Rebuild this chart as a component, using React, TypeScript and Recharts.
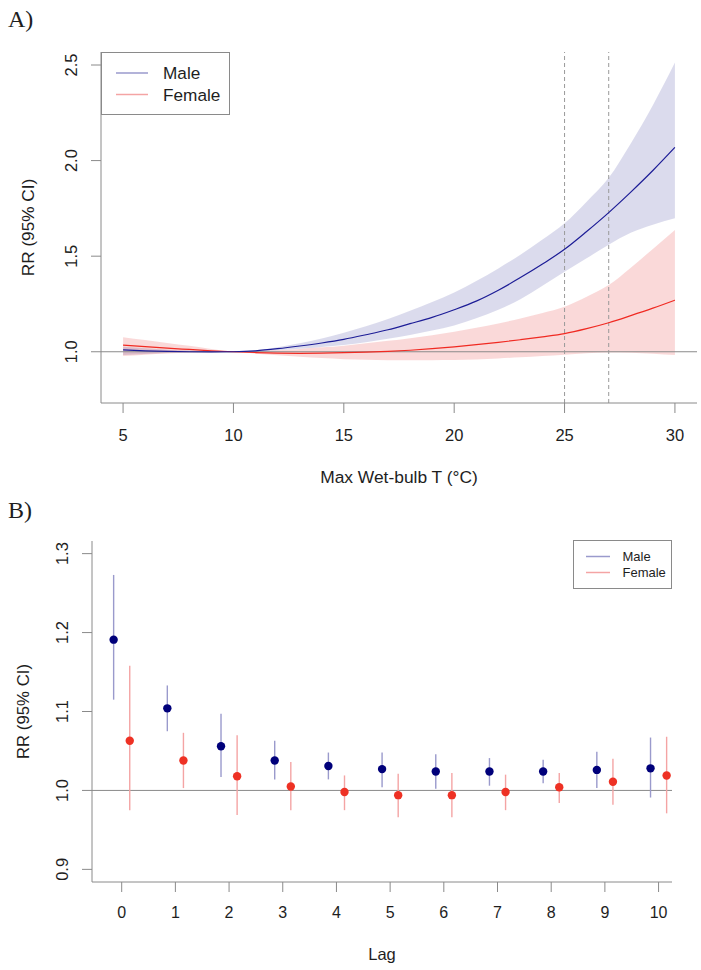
import React from 'react';
import {
  ComposedChart,
  Area,
  Line,
  XAxis,
  YAxis,
  ReferenceLine,
  Legend,
  Scatter,
  ErrorBar,
} from 'recharts';

const FONT = "'Liberation Sans', Arial, Helvetica, sans-serif";
const SERIF = "'Liberation Serif', 'Times New Roman', serif";

// ---------- Panel A: exposure-response curves ----------
const tempX = [5, 6, 7, 8, 9, 10, 11, 12, 13, 14, 15, 16, 17, 18, 19, 20, 21, 22, 23, 24, 25, 26, 27, 28, 29, 30];
const maleFit = [1.010, 1.005, 1.002, 1.000, 0.999, 1.000, 1.005, 1.016, 1.030, 1.046, 1.065, 1.089, 1.115, 1.147, 1.180, 1.220, 1.265, 1.322, 1.388, 1.459, 1.536, 1.629, 1.728, 1.835, 1.948, 2.069];
const maleLow = [0.983, 0.988, 0.993, 0.996, 0.997, 1.000, 1.002, 1.008, 1.016, 1.025, 1.035, 1.050, 1.068, 1.088, 1.111, 1.138, 1.175, 1.220, 1.275, 1.345, 1.419, 1.489, 1.560, 1.622, 1.664, 1.698];
const maleHigh = [1.026, 1.018, 1.011, 1.006, 1.002, 1.000, 1.008, 1.024, 1.044, 1.070, 1.100, 1.133, 1.171, 1.214, 1.260, 1.310, 1.370, 1.436, 1.508, 1.587, 1.672, 1.785, 1.910, 2.090, 2.290, 2.513];
const femaleFit = [1.035, 1.027, 1.019, 1.012, 1.005, 1.000, 0.996, 0.993, 0.992, 0.993, 0.995, 0.998, 1.002, 1.008, 1.016, 1.026, 1.037, 1.049, 1.063, 1.078, 1.095, 1.121, 1.152, 1.189, 1.228, 1.270];
const femaleLow = [0.978, 0.985, 0.991, 0.995, 0.998, 1.000, 0.990, 0.982, 0.974, 0.967, 0.961, 0.958, 0.956, 0.955, 0.956, 0.957, 0.960, 0.965, 0.971, 0.978, 0.985, 0.992, 0.996, 0.995, 0.990, 0.983];
const femaleHigh = [1.076, 1.061, 1.046, 1.031, 1.015, 1.000, 1.003, 1.008, 1.015, 1.023, 1.032, 1.044, 1.057, 1.071, 1.087, 1.105, 1.125, 1.148, 1.174, 1.203, 1.236, 1.288, 1.349, 1.440, 1.538, 1.637];
const tempTicks = [5, 10, 15, 20, 25, 30];
const rrTicksA = [1.0, 1.5, 2.0, 2.5];
const thresholds = [25, 27];

// ---------- Panel B: lag-specific estimates ----------
const lags = [0, 1, 2, 3, 4, 5, 6, 7, 8, 9, 10];
const maleEst = [1.191, 1.104, 1.056, 1.038, 1.031, 1.027, 1.024, 1.024, 1.024, 1.026, 1.028];
const maleLo = [1.115, 1.075, 1.017, 1.014, 1.014, 1.004, 1.002, 1.006, 1.009, 1.003, 0.991];
const maleHi = [1.273, 1.133, 1.097, 1.063, 1.048, 1.048, 1.046, 1.041, 1.039, 1.049, 1.067];
const femaleEst = [1.063, 1.038, 1.018, 1.005, 0.998, 0.994, 0.994, 0.998, 1.004, 1.011, 1.019];
const femaleLo = [0.975, 1.003, 0.969, 0.975, 0.975, 0.966, 0.966, 0.975, 0.984, 0.982, 0.971];
const femaleHi = [1.158, 1.073, 1.070, 1.036, 1.019, 1.021, 1.022, 1.020, 1.022, 1.040, 1.068];
const rrTicksB = [0.9, 1.0, 1.1, 1.2, 1.3];

const seriesNames = ['Male', 'Female'];

// ---------- styles ----------
const AXIS = '#8a8a8a';
const TEXT = '#1e1e1e';
const MALE = '#1c1c96';
const FEMALE = '#f02a22';
const MALE_DOT = '#00007a';
const FEMALE_DOT = '#ee3124';
const MALE_LIGHT = '#9a9acc';
const FEMALE_LIGHT = '#f4a4a4';
const legendColors = [MALE_LIGHT, FEMALE_LIGHT];

const curveRows = tempX.map((x, i) => ({
  x,
  mFit: maleFit[i],
  mBand: [maleLow[i], maleHigh[i]],
  fFit: femaleFit[i],
  fBand: [femaleLow[i], femaleHigh[i]],
}));

const DODGE = 0.15;
const maleLagRows = lags.map((l, i) => ({
  x: l - DODGE,
  y: maleEst[i],
  err: [maleEst[i] - maleLo[i], maleHi[i] - maleEst[i]],
}));
const femaleLagRows = lags.map((l, i) => ({
  x: l + DODGE,
  y: femaleEst[i],
  err: [femaleEst[i] - femaleLo[i], femaleHi[i] - femaleEst[i]],
}));

const RotYTick = (props: any) => {
  const { x, y, payload, fs, off } = props;
  const cx = x - off;
  return (
    <text
      x={cx}
      y={y}
      transform={`rotate(-90 ${cx} ${y})`}
      textAnchor="middle"
      dy="0.36em"
      fontSize={fs}
      fontFamily={FONT}
      fill={TEXT}
    >
      {Number(payload.value).toFixed(1)}
    </text>
  );
};

const XTick = (props: any) => {
  const { x, y, payload, fs } = props;
  return (
    <text x={x} y={y} dy="0.716em" textAnchor="middle" fontSize={fs} fontFamily={FONT} fill={TEXT}>
      {payload.value}
    </text>
  );
};

const YTitle = (props: any) => {
  const { viewBox, text, off, fs } = props;
  const cx = viewBox.x + off;
  const cy = viewBox.y + viewBox.height / 2;
  return (
    <text
      x={cx}
      y={cy}
      transform={`rotate(-90 ${cx} ${cy})`}
      textAnchor="middle"
      dy="0.36em"
      fontSize={fs}
      fontFamily={FONT}
      fill={TEXT}
    >
      {text}
    </text>
  );
};

const XTitle = (props: any) => {
  const { viewBox, text, off, fs } = props;
  const cx = viewBox.x + viewBox.width / 2;
  const cy = viewBox.y + off;
  return (
    <text x={cx} y={cy} textAnchor="middle" fontSize={fs} fontFamily={FONT} fill={TEXT}>
      {text}
    </text>
  );
};

const BoxLegend = (props: any) => {
  const { w, h, rows, x1, x2, tx, fs } = props;
  return (
    <div style={{ width: w, height: h, border: `1px solid ${AXIS}`, background: '#fff', boxSizing: 'border-box' }}>
      <svg width={w - 2} height={h - 2} style={{ display: 'block' }}>
        {seriesNames.map((n, i) => (
          <g key={n}>
            <line x1={x1} x2={x2} y1={rows[i]} y2={rows[i]} stroke={legendColors[i]} strokeWidth={1.5} />
            <text x={tx} y={rows[i]} dy="0.36em" fontSize={fs} fontFamily={FONT} fill={TEXT}>
              {n}
            </text>
          </g>
        ))}
      </svg>
    </div>
  );
};

const Dot = (color: string) => (p: any) => <circle cx={p.cx} cy={p.cy} r={4.2} fill={color} />;

export default function App() {
  return (
    <div style={{ position: 'absolute', left: 0, top: 0, width: 701, height: 970, background: '#fff', fontFamily: FONT }}>
      <svg width={701} height={970} style={{ position: 'absolute', left: 0, top: 0 }}>
        <text x={8} y={27} fontFamily={SERIF} fontSize={24} fill={TEXT}>A)</text>
        <text x={8} y={518} fontFamily={SERIF} fontSize={24} fill={TEXT}>B)</text>
      </svg>

      <div style={{ position: 'absolute', left: 0, top: 0 }}>
        <ComposedChart width={701} height={495} data={curveRows} margin={{ top: 52, right: 4, bottom: 10, left: 0 }}>
          <XAxis
            type="number"
            dataKey="x"
            domain={[4, 31]}
            ticks={tempTicks}
            interval={0}
            allowDataOverflow
            height={82}
            tickSize={10}
            tickMargin={16}
            axisLine={{ stroke: AXIS }}
            tickLine={{ stroke: AXIS }}
            tick={(p: any) => <XTick {...p} fs={16.5} />}
            label={{ content: (p: any) => <XTitle {...p} text="Max Wet-bulb T (°C)" off={80} fs={17.4} /> }}
          />
          <YAxis
            type="number"
            domain={[0.732, 2.568]}
            ticks={rrTicksA}
            interval={0}
            allowDataOverflow
            width={101}
            tickSize={10}
            tickMargin={0}
            axisLine={{ stroke: AXIS }}
            tickLine={{ stroke: AXIS }}
            tick={(p: any) => <RotYTick {...p} fs={16.5} off={19.5} />}
            label={{ content: (p: any) => <YTitle {...p} text="RR (95% CI)" off={28.3} fs={17.2} /> }}
          />
          <Area dataKey="mBand" type="monotone" stroke="none" fill="#000080" fillOpacity={0.14} isAnimationActive={false} />
          <Area dataKey="fBand" type="monotone" stroke="none" fill="#e00000" fillOpacity={0.15} isAnimationActive={false} />
          <ReferenceLine y={1} stroke={AXIS} strokeWidth={1} />
          {thresholds.map((t) => (
            <ReferenceLine key={t} x={t} stroke="#9a9a9a" strokeDasharray="4 3" strokeWidth={1} />
          ))}
          <Line dataKey="fFit" type="monotone" stroke={FEMALE} strokeWidth={1.2} dot={false} activeDot={false} isAnimationActive={false} />
          <Line dataKey="mFit" type="monotone" stroke={MALE} strokeWidth={1.2} dot={false} activeDot={false} isAnimationActive={false} />
          <Legend
            layout="vertical"
            align="center"
            verticalAlign="middle"
            wrapperStyle={{ left: 101, top: 52, width: 129, height: 63 }}
            content={() => <BoxLegend w={129} h={63} rows={[20, 41.5]} x1={14} x2={46} tx={61} fs={17.2} />}
          />
        </ComposedChart>
      </div>

      <div style={{ position: 'absolute', left: 0, top: 485 }}>
        <ComposedChart width={701} height={485} margin={{ top: 56, right: 29, bottom: 0, left: 0 }}>
          <XAxis
            type="number"
            dataKey="x"
            domain={[-0.553, 10.25]}
            ticks={lags}
            interval={0}
            allowDataOverflow
            height={88}
            tickSize={10}
            tickMargin={15}
            axisLine={{ stroke: AXIS }}
            tickLine={{ stroke: AXIS }}
            tick={(p: any) => <XTick {...p} fs={16} />}
            label={{ content: (p: any) => <XTitle {...p} text="Lag" off={78.3} fs={16.5} /> }}
          />
          <YAxis
            type="number"
            dataKey="y"
            domain={[0.884, 1.316]}
            ticks={rrTicksB}
            interval={0}
            allowDataOverflow
            width={92}
            tickSize={10}
            tickMargin={0}
            axisLine={{ stroke: AXIS }}
            tickLine={{ stroke: AXIS }}
            tick={(p: any) => <RotYTick {...p} fs={16.5} off={19.5} />}
            label={{ content: (p: any) => <YTitle {...p} text="RR (95% CI)" off={23.3} fs={16.8} /> }}
          />
          <ReferenceLine y={1} stroke={AXIS} strokeWidth={1} />
          <Scatter data={maleLagRows} dataKey="y" fill={MALE_DOT} shape={Dot(MALE_DOT)} isAnimationActive={false}>
            <ErrorBar dataKey="err" direction="y" width={0} stroke={MALE_LIGHT} strokeWidth={1.4} isAnimationActive={false} />
          </Scatter>
          <Scatter data={femaleLagRows} dataKey="y" fill={FEMALE_DOT} shape={Dot(FEMALE_DOT)} isAnimationActive={false}>
            <ErrorBar dataKey="err" direction="y" width={0} stroke={FEMALE_LIGHT} strokeWidth={1.4} isAnimationActive={false} />
          </Scatter>
          <Legend
            layout="vertical"
            align="center"
            verticalAlign="middle"
            wrapperStyle={{ left: 572.7, top: 55.3, width: 99, height: 49 }}
            content={() => <BoxLegend w={99} h={49} rows={[15.5, 31.5]} x1={12} x2={36} tx={48.5} fs={13} />}
          />
        </ComposedChart>
      </div>
    </div>
  );
}
